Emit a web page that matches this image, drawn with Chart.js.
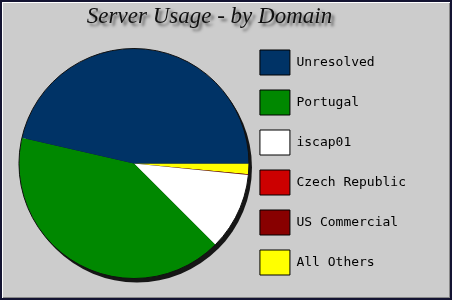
<!DOCTYPE html>
<html lang="en">
  <head>
    <meta charset="UTF-8" />
    <title>Server Usage - by Domain</title>
    <style>
      body {
        margin: 0;
        background: #cccccc;
      }

      .wrap {
        position: relative;
        width: 452px;
        height: 300px;
        background: #cccccc;
      }

      .frame {
        position: absolute;
        left: 0;
        top: 0;
        width: 452px;
        height: 300px;
        box-sizing: border-box;
        border: 2px solid #141432;
        box-shadow: inset 1px 1px 0 #ffffff, inset -1px -1px 0 #888888;
      }

      canvas {
        position: absolute;
        left: 0;
        top: 0;
      }
    </style>
  </head>
  <body>
    <div class="wrap">
      <div class="frame"></div>
      <canvas id="pieChart" width="452" height="300"></canvas>
    </div>

    <script src="https://cdn.jsdelivr.net/npm/chart.js"></script>
    <script>
      // Dominios (orden de la leyenda)
      const domains = [
        "Unresolved",
        "Portugal",
        "iscap01",
        "Czech Republic",
        "US Commercial",
        "All Others",
      ];

      // Porcentaje de uso
      const usage = [46.4, 41.1, 10.9, 0.05, 0.05, 1.5];

      const sliceColors = [
        "#003366",
        "#008800",
        "#ffffff",
        "#cc0000",
        "#880000",
        "#ffff00",
      ];

      // the original goes counter-clockwise from 3 o'clock, Chart.js goes
      // clockwise, so feed the slices backwards and flip the legend back
      const revLabels = domains.slice().reverse();
      const revUsage = usage.slice().reverse();
      const revColors = sliceColors.slice().reverse();

      // sombra del titulo + corrimiento a la izquierda
      const titleShadow = {
        id: "titleShadow",
        beforeDraw(chart) {
          const tb = chart.titleBlock;
          if (!tb || tb._shadowed) return;
          const orig = tb.draw.bind(tb);
          tb.draw = function () {
            const ctx = chart.ctx;
            ctx.save();
            ctx.translate(-10, 0);
            ctx.shadowColor = "rgba(0,0,0,0.55)";
            ctx.shadowBlur = 3;
            ctx.shadowOffsetX = 3;
            ctx.shadowOffsetY = 3;
            orig();
            ctx.restore();
          };
          tb._shadowed = true;
        },
      };

      // sombra negra debajo de la torta
      const pieShadow = {
        id: "pieShadow",
        beforeDatasetsDraw(chart) {
          const arc = chart.getDatasetMeta(0).data[0];
          if (!arc) return;
          const ctx = chart.ctx;
          ctx.save();
          ctx.fillStyle = "#161616";
          ctx.beginPath();
          ctx.arc(arc.x + 3, arc.y + 4, arc.outerRadius, 0, Math.PI * 2);
          ctx.fill();
          ctx.restore();
        },
        afterDatasetsDraw(chart) {
          const arc = chart.getDatasetMeta(0).data[0];
          if (!arc) return;
          const ctx = chart.ctx;
          ctx.save();
          ctx.strokeStyle = "#111111";
          ctx.lineWidth = 1;
          ctx.beginPath();
          ctx.arc(arc.x, arc.y, arc.outerRadius, 0, Math.PI * 2);
          ctx.stroke();
          ctx.restore();
        },
      };

      const ctx = document.getElementById("pieChart").getContext("2d");
      new Chart(ctx, {
        type: "pie",
        data: {
          labels: revLabels,
          datasets: [
            {
              data: revUsage,
              backgroundColor: revColors,
              borderWidth: 0,
            },
          ],
        },
        options: {
          responsive: false,
          animation: false,
          rotation: 90,
          radius: 115,
          layout: {
            padding: { left: 23, right: 36, top: 0, bottom: 8 },
          },
          plugins: {
            tooltip: { enabled: false },
            title: {
              display: true,
              text: "Server Usage - by Domain",
              color: "#111111",
              font: {
                family: "'Liberation Serif', serif",
                size: 23,
                style: "italic",
                weight: "normal",
              },
              padding: { top: 3.5, bottom: 3.9 },
            },
            legend: {
              position: "right",
              align: "start",
              reverse: true,
              title: {
                display: true,
                text: "",
                font: { size: 10 },
                padding: { top: 23, bottom: 0 },
              },
              labels: {
                boxWidth: 30,
                boxHeight: 25,
                padding: 15,
                color: "#000000",
                font: { family: "'DejaVu Sans Mono', monospace", size: 13 },
                generateLabels(chart) {
                  const items =
                    Chart.overrides.doughnut.plugins.legend.labels.generateLabels(
                      chart
                    );
                  items.forEach((it) => {
                    it.strokeStyle = "#000000";
                    it.lineWidth = 1;
                  });
                  return items;
                },
              },
            },
          },
        },
        plugins: [titleShadow, pieShadow],
      });
    </script>
  </body>
</html>
